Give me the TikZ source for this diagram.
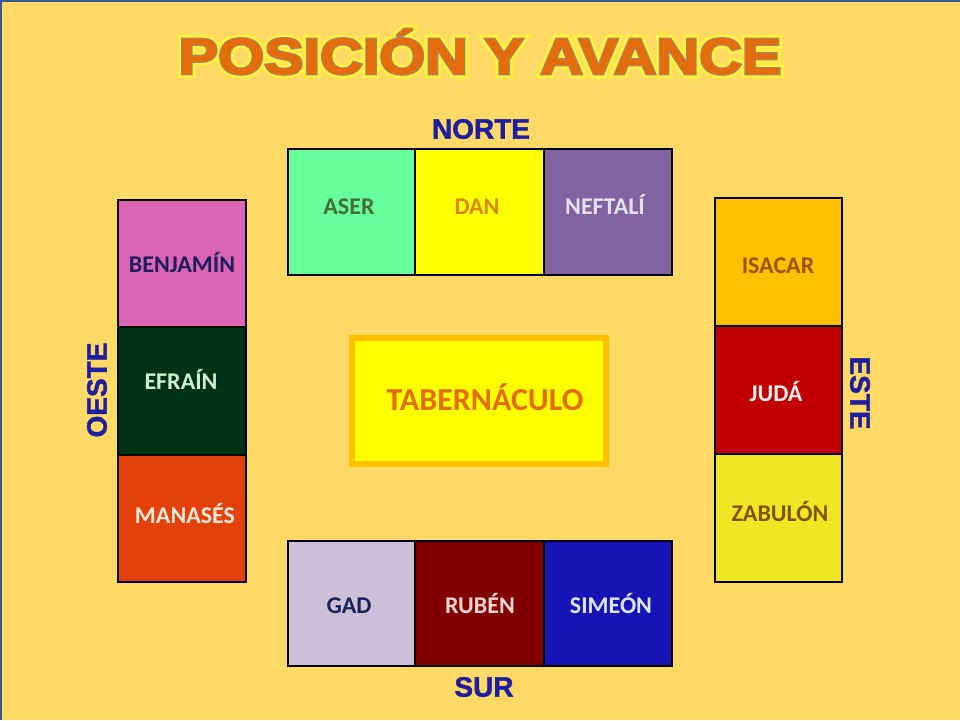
\documentclass[tikz,border=0pt]{standalone}
\usepackage{fontspec}
\setmainfont{Carlito}
\newfontfamily\headfont{Liberation Sans}
\newfontfamily\tmain[FakeBold=1.5]{Liberation Sans Bold}
\newfontfamily\tgrey[FakeBold=5]{Liberation Sans Bold}
\newfontfamily\tglow[FakeBold=16]{Liberation Sans Bold}
\definecolor{bgc}{RGB}{255,217,102}
\definecolor{edgeblue}{RGB}{50,90,140}
\definecolor{titleor}{RGB}{228,108,10}
\definecolor{titleglow}{RGB}{255,240,60}
\definecolor{titlegrey}{RGB}{150,140,130}
\definecolor{dirblue}{RGB}{30,30,160}
\definecolor{aserf}{RGB}{102,255,153}\definecolor{asert}{RGB}{70,110,50}
\definecolor{danf}{RGB}{255,255,0}\definecolor{dant}{RGB}{215,135,0}
\definecolor{neff}{RGB}{128,100,162}\definecolor{neft}{RGB}{230,224,236}
\definecolor{benf}{RGB}{220,102,182}\definecolor{bent}{RGB}{30,30,90}
\definecolor{eff}{RGB}{0,50,22}\definecolor{eft}{RGB}{210,240,205}
\definecolor{manf}{RGB}{226,65,10}\definecolor{mant}{RGB}{255,232,215}
\definecolor{isaf}{RGB}{255,192,0}\definecolor{isat}{RGB}{155,85,10}
\definecolor{judf}{RGB}{192,0,0}\definecolor{judt}{RGB}{255,238,238}
\definecolor{zabf}{RGB}{240,230,35}\definecolor{zabt}{RGB}{128,85,0}
\definecolor{gadf}{RGB}{204,192,218}\definecolor{gadt}{RGB}{25,35,85}
\definecolor{rubf}{RGB}{128,0,0}\definecolor{rubt}{RGB}{255,212,212}
\definecolor{simf}{RGB}{22,20,180}\definecolor{simt}{RGB}{222,230,255}
\definecolor{tabf}{RGB}{255,255,0}\definecolor{tabb}{RGB}{255,192,0}
\definecolor{tabt}{RGB}{228,108,10}
\newcommand{\mytitle}[1]{\scalebox{1.16}[1]{#1\fontsize{51}{51}\selectfont POSICIÓN Y AVANCE}}
\begin{document}
\begin{tikzpicture}[x=1pt,y=-1pt,
  tribe/.style={draw=black,line width=2.8pt,inner sep=0pt,minimum width=128pt,minimum height=127pt},
  tlabel/.style={anchor=base,inner sep=0pt,font=\bfseries\fontsize{24}{24}\selectfont},
  dirlabel/.style={inner sep=0pt,text=dirblue,font=\tmain\fontsize{28}{28}\selectfont},
  ttl/.style={anchor=base,inner sep=0pt}]
\fill[bgc] (0,0) rectangle (960,720);
\useasboundingbox (0,0) rectangle (960,720);
\draw[edgeblue,line width=2pt] (1,720) -- (1,1) -- (960,1);
% title
\node[ttl,text=titleglow] (titleglow) at (480,74) {\mytitle{\tglow}};
\node[ttl,text=titlegrey] (titleline) at (480,74) {\mytitle{\tgrey}};
\node[ttl,text=titleor] (title) at (480,74) {\mytitle{\tmain}};
% directions
\node[dirlabel] (norte) at (481,129) {NORTE};
\node[dirlabel] (sur) at (484,687) {SUR};
\node[dirlabel,rotate=90] (oeste) at (97,390) {OESTE};
\node[dirlabel,rotate=-90] (este) at (860,393) {ESTE};
% north
\node[tribe,fill=aserf,minimum width=127pt,minimum height=126pt] (aser) at (351.5,212) {};
\node[tribe,fill=danf,minimum width=129pt,minimum height=126pt] (dan) at (479.5,212) {};
\node[tribe,fill=neff,minimum height=126pt] (neftali) at (608,212) {};
\node[tlabel,text=asert] (aserT) at (349,214) {ASER};
\node[tlabel,text=dant] (danT) at (477,214) {DAN};
\node[tlabel,text=neft] (neftaliT) at (605,214) {NEFTALÍ};
% west
\node[tribe,fill=benf] (benjamin) at (182,263.5) {};
\node[tribe,fill=eff,minimum height=128pt] (efrain) at (182,391) {};
\node[tribe,fill=manf] (manases) at (182,518.5) {};
\node[tlabel,text=bent] (benjaminT) at (182,272) {BENJAMÍN};
\node[tlabel,text=eft] (efrainT) at (181,389) {EFRAÍN};
\node[tlabel,text=mant] (manasesT) at (185,523) {MANASÉS};
% east
\node[tribe,fill=isaf,minimum width=127pt,minimum height=128pt] (isacar) at (778.5,262) {};
\node[tribe,fill=judf,minimum width=127pt,minimum height=128pt] (juda) at (778.5,390) {};
\node[tribe,fill=zabf,minimum width=127pt,minimum height=128pt] (zabulon) at (778.5,518) {};
\node[tlabel,text=isat] (isacarT) at (778,273) {ISACAR};
\node[tlabel,text=judt] (judaT) at (776,401) {JUDÁ};
\node[tlabel,text=zabt] (zabulonT) at (780,521) {ZABULÓN};
% south
\node[tribe,fill=gadf,minimum width=127pt,minimum height=125pt] (gad) at (351.5,603.5) {};
\node[tribe,fill=rubf,minimum width=129pt,minimum height=125pt] (ruben) at (479.5,603.5) {};
\node[tribe,fill=simf,minimum height=125pt] (simeon) at (608,603.5) {};
\node[tlabel,text=gadt] (gadT) at (349,613) {GAD};
\node[tlabel,text=rubt] (rubenT) at (480,613) {RUBÉN};
\node[tlabel,text=simt] (simeonT) at (611,613) {SIMEÓN};
% tabernacle
\node[draw=tabb,line width=6pt,fill=tabf,inner sep=0pt,minimum width=254pt,minimum height=126pt] (tab) at (479,401) {};
\node[anchor=base,inner sep=0pt,text=tabt,font=\bfseries\fontsize{32}{32}\selectfont] (tabT) at (485,410) {TABERNÁCULO};
\end{tikzpicture}
\end{document}
